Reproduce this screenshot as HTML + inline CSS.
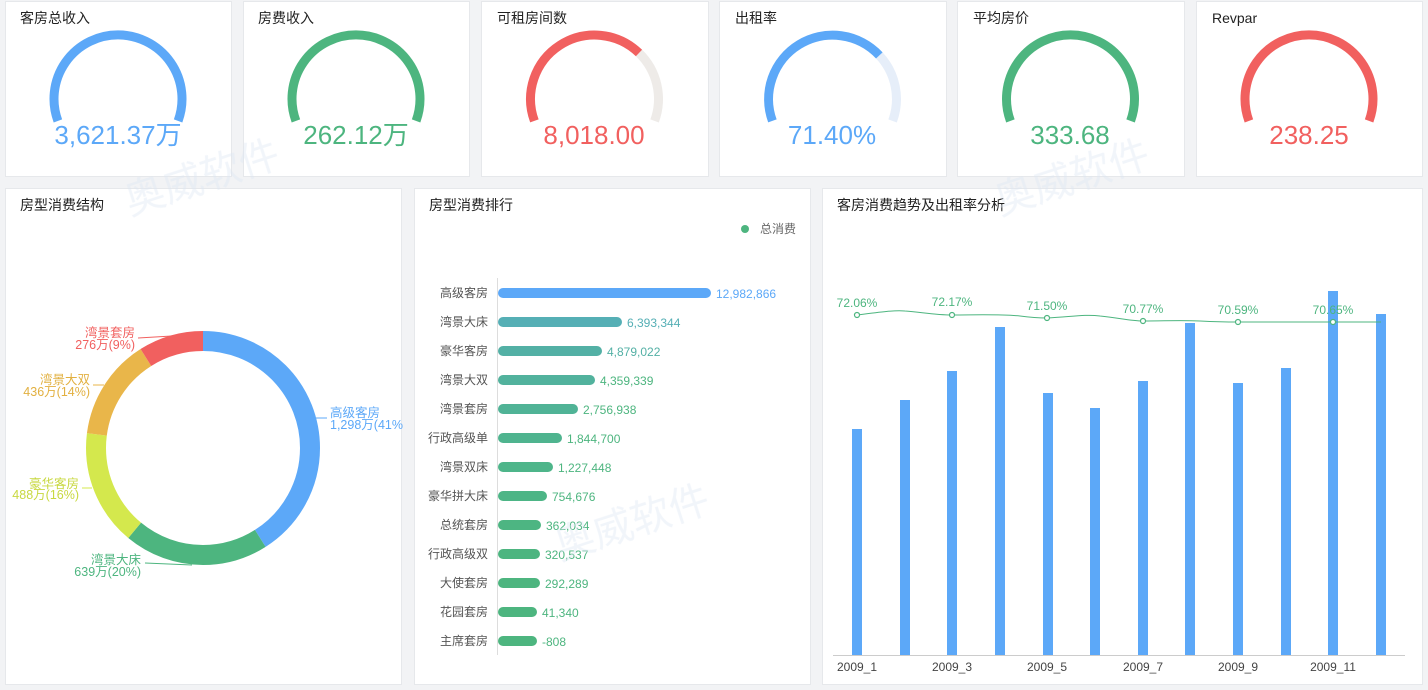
<!DOCTYPE html>
<html><head><meta charset="utf-8"><style>
body{margin:0;width:1428px;height:690px;background:#f2f3f5;font-family:"Liberation Sans","Noto Sans CJK SC",sans-serif;overflow:hidden}
svg{position:absolute;left:0;top:0}
</style></head><body>
<svg width="1428" height="690" xmlns="http://www.w3.org/2000/svg" font-family="Liberation Sans, Noto Sans CJK SC, sans-serif">
<g fill="#fff" stroke="#e6e8eb">
<rect x="5.5" y="1.5" width="226" height="175"/><rect x="243.5" y="1.5" width="226" height="175"/><rect x="481.5" y="1.5" width="227" height="175"/><rect x="719.5" y="1.5" width="227" height="175"/><rect x="957.5" y="1.5" width="227" height="175"/><rect x="1196.5" y="1.5" width="226" height="175"/>
<rect x="5.5" y="188.5" width="396" height="496"/><rect x="414.5" y="188.5" width="396" height="496"/><rect x="822.5" y="188.5" width="600" height="496"/>
</g>
<g font-size="14" fill="#222">
<text x="20" y="23">客房总收入</text><text x="258" y="23">房费收入</text><text x="497" y="23">可租房间数</text><text x="735" y="23">出租率</text><text x="973" y="23">平均房价</text><text x="1212" y="23">Revpar</text>
<text x="20" y="210">房型消费结构</text><text x="429" y="210">房型消费排行</text><text x="837" y="210">客房消费趋势及出租率分析</text>
</g>
<g fill="none" stroke-width="9">
<path d="M57.9 120.9 A64 64 0 1 1 178.1 120.9" stroke="#5ca8f8"/>
<path d="M295.9 120.9 A64 64 0 1 1 416.1 120.9" stroke="#4db57f"/>
<path d="M639 53 A64 64 0 0 1 654.6 120.9" stroke="#eeebe8"/>
<path d="M534.4 120.9 A64 64 0 0 1 639 53" stroke="#f1605f"/>
<path d="M879.3 55.4 A64 64 0 0 1 892.6 120.9" stroke="#e6eef9"/>
<path d="M772.4 120.9 A64 64 0 0 1 879.3 55.4" stroke="#5ca8f8"/>
<path d="M1010.4 120.9 A64 64 0 1 1 1130.6 120.9" stroke="#4db57f"/>
<path d="M1248.9 120.9 A64 64 0 1 1 1369.1 120.9" stroke="#f1605f"/>
</g>
<g font-size="26" text-anchor="middle">
<text x="118" y="144" fill="#5ca8f8">3,621.37万</text><text x="356" y="144" fill="#4db57f">262.12万</text><text x="594" y="144" fill="#f1605f">8,018.00</text><text x="832" y="144" fill="#5ca8f8">71.40%</text><text x="1070" y="144" fill="#4db57f">333.68</text><text x="1309" y="144" fill="#f1605f">238.25</text>
</g>
<g fill="none" stroke-width="20" transform="rotate(-90 203 448)">
<circle cx="203" cy="448" r="107" stroke="#5ca8f8" stroke-dasharray="275.6 1000"/>
<circle cx="203" cy="448" r="107" stroke="#4db57f" stroke-dasharray="134.5 1000" stroke-dashoffset="-275.6"/>
<circle cx="203" cy="448" r="107" stroke="#d4e84d" stroke-dasharray="107.6 1000" stroke-dashoffset="-410.1"/>
<circle cx="203" cy="448" r="107" stroke="#e9b64a" stroke-dasharray="94.1 1000" stroke-dashoffset="-517.7"/>
<circle cx="203" cy="448" r="107" stroke="#f1605f" stroke-dasharray="60.6 1000" stroke-dashoffset="-611.8"/>
</g>
<g stroke-width="1" fill="none">
<path d="M315 418 H327" stroke="#5ca8f8"/><path d="M145 563 L192 565" stroke="#4db57f"/><path d="M82 488 H92" stroke="#d4e84d"/><path d="M93 385 H104" stroke="#e9b64a"/><path d="M138 338 L172 336" stroke="#f1605f"/>
</g>
<g font-size="12.5">
<text x="330" y="417" fill="#5ca8f8">高级客房</text><text x="330" y="429" fill="#5ca8f8">1,298万(41%</text>
<text x="141" y="564" fill="#4db57f" text-anchor="end">湾景大床</text><text x="141" y="576" fill="#4db57f" text-anchor="end">639万(20%)</text>
<text x="79" y="488" fill="#c8d840" text-anchor="end">豪华客房</text><text x="79" y="499" fill="#c8d840" text-anchor="end">488万(16%)</text>
<text x="90" y="384" fill="#e2b040" text-anchor="end">湾景大双</text><text x="90" y="396" fill="#e2b040" text-anchor="end">436万(14%)</text>
<text x="135" y="337" fill="#f1605f" text-anchor="end">湾景套房</text><text x="135" y="349" fill="#f1605f" text-anchor="end">276万(9%)</text>
</g>
<circle cx="745" cy="229" r="4" fill="#4db57f"/><text x="760" y="233" font-size="12" fill="#666">总消费</text>
<line x1="497.5" y1="278" x2="497.5" y2="655" stroke="#ddd"/>
<g stroke-width="10" stroke-linecap="round">
<line x1="503" y1="293" x2="706" y2="293" stroke="#5ca8f8"/>
<line x1="503" y1="322" x2="617" y2="322" stroke="#55afb5"/>
<line x1="503" y1="351" x2="597" y2="351" stroke="#53b0a5"/>
<line x1="503" y1="380" x2="590" y2="380" stroke="#52b29d"/>
<line x1="503" y1="409" x2="573" y2="409" stroke="#50b396"/>
<line x1="503" y1="438" x2="557" y2="438" stroke="#4fb48f"/>
<line x1="503" y1="467" x2="548" y2="467" stroke="#4eb58a"/>
<line x1="503" y1="496" x2="542" y2="496" stroke="#4db586"/>
<line x1="503" y1="525" x2="536" y2="525" stroke="#4db582"/>
<line x1="503" y1="554" x2="535" y2="554" stroke="#4db580"/>
<line x1="503" y1="583" x2="535" y2="583" stroke="#4db57f"/>
<line x1="503" y1="612" x2="532" y2="612" stroke="#4db57f"/>
<line x1="503" y1="641" x2="532" y2="641" stroke="#4db57f"/>
</g>
<g font-size="12" fill="#555" text-anchor="end">
<text x="488" y="297">高级客房</text><text x="488" y="326">湾景大床</text><text x="488" y="355">豪华客房</text><text x="488" y="384">湾景大双</text><text x="488" y="413">湾景套房</text><text x="488" y="442">行政高级单</text><text x="488" y="471">湾景双床</text><text x="488" y="500">豪华拼大床</text><text x="488" y="529">总统套房</text><text x="488" y="558">行政高级双</text><text x="488" y="587">大使套房</text><text x="488" y="616">花园套房</text><text x="488" y="645">主席套房</text>
</g>
<g font-size="12" fill="#4db57f">
<text x="716" y="298" fill="#5ca8f8">12,982,866</text><text x="627" y="327" fill="#55afb5">6,393,344</text><text x="607" y="356" fill="#53b0a5">4,879,022</text><text x="600" y="385">4,359,339</text><text x="583" y="414">2,756,938</text><text x="567" y="443">1,844,700</text><text x="558" y="472">1,227,448</text><text x="552" y="501">754,676</text><text x="546" y="530">362,034</text><text x="545" y="559">320,537</text><text x="545" y="588">292,289</text><text x="542" y="617">41,340</text><text x="542" y="646">-808</text>
</g>
<line x1="833" y1="655.5" x2="1405" y2="655.5" stroke="#ccc"/>
<g fill="#5ca8f8">
<rect x="852" y="429" width="10" height="226"/><rect x="900" y="400" width="10" height="255"/><rect x="947" y="371" width="10" height="284"/><rect x="995" y="327" width="10" height="328"/><rect x="1043" y="393" width="10" height="262"/><rect x="1090" y="408" width="10" height="247"/><rect x="1138" y="381" width="10" height="274"/><rect x="1185" y="323" width="10" height="332"/><rect x="1233" y="383" width="10" height="272"/><rect x="1281" y="368" width="10" height="287"/><rect x="1328" y="291" width="10" height="364"/><rect x="1376" y="314" width="10" height="341"/>
</g>
<path d="M857 315 C880 312 895 310 905 311 C920 312 935 315 952 315 C975 315 1000 314 1020 316 C1035 318 1040 318 1047 318 C1070 317 1085 314 1100 316 C1120 318 1130 321 1143 321 C1165 321 1180 320 1200 321 C1220 322 1230 322 1238 322 L1381 322" fill="none" stroke="#4db57f" stroke-width="1"/>
<g fill="#fff" stroke="#4db57f" stroke-width="1.2">
<circle cx="857" cy="315" r="2.5"/><circle cx="952" cy="315" r="2.5"/><circle cx="1047" cy="318" r="2.5"/><circle cx="1143" cy="321" r="2.5"/><circle cx="1238" cy="322" r="2.5"/><circle cx="1333" cy="322" r="2.5"/>
</g>
<g font-size="12" fill="#4db57f" text-anchor="middle">
<text x="857" y="307">72.06%</text><text x="952" y="306">72.17%</text><text x="1047" y="310">71.50%</text><text x="1143" y="313">70.77%</text><text x="1238" y="314">70.59%</text><text x="1333" y="314">70.65%</text>
</g>
<g font-size="12" fill="#444" text-anchor="middle">
<text x="857" y="671">2009_1</text><text x="952" y="671">2009_3</text><text x="1047" y="671">2009_5</text><text x="1143" y="671">2009_7</text><text x="1238" y="671">2009_9</text><text x="1333" y="671">2009_11</text>
</g>
<g fill="#dde6f3" opacity="0.4" font-size="40">
<text x="130" y="215" transform="rotate(-18 130 215)">奥威软件</text>
<text x="560" y="560" transform="rotate(-18 560 560)">奥威软件</text>
<text x="1000" y="215" transform="rotate(-18 1000 215)">奥威软件</text>
</g>
</svg>
</body></html>
